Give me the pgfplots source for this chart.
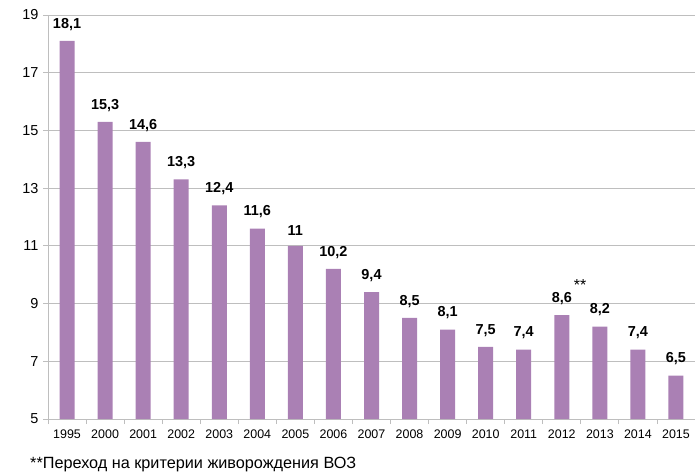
\documentclass[border=0pt]{standalone}
\usepackage{pgfplots}
\pgfplotsset{compat=1.18}
\usepackage{fontspec}
\setmainfont{Liberation Sans}
\definecolor{barc}{RGB}{170,128,180}
\definecolor{gridc}{RGB}{190,190,190}
\begin{document}
\begin{tikzpicture}
\useasboundingbox (-48bp,-55bp) rectangle (647bp,419bp);
\begin{axis}[
  at={(0,0)}, anchor=south west,
  scale only axis,
  width=647bp, height=404bp,
  xmin=-0.5, xmax=16.5,
  ymin=5, ymax=19,
  ytick={5,7,...,19},
  xtick={0,...,16},
  xticklabels={1995,2000,2001,2002,2003,2004,2005,2006,2007,2008,2009,2010,2011,2012,2013,2014,2015},
  minor xtick={-0.5,0.5,...,16.5},
  major x tick style={draw=none},
  minor tick length=5bp,
  major tick length=5bp,
  tick align=outside,
  ymajorgrids,
  grid style={gridc, line width=0.8pt},
  axis x line*=bottom,
  axis y line*=left,
  axis line style={gridc, line width=0.8pt},
  tick style={gridc, line width=0.8pt},
  /pgf/number format/assume math mode=true,
  yticklabel style={font=\fontsize{14.5}{14.5}\selectfont, xshift=-1bp},
  xticklabel style={font=\fontsize{12.5}{12.5}\selectfont, yshift=-2bp},
  ybar, bar width=15bp,
  nodes near coords,
  nodes near coords style={font=\bfseries\fontsize{14.5}{14.5}\selectfont, /pgf/number format/use comma, /pgf/number format/assume math mode=true, yshift=7bp},
  clip=false,
]
\addplot[fill=barc, draw=none] coordinates {
(0,18.1) (1,15.3) (2,14.6) (3,13.3) (4,12.4) (5,11.6) (6,11) (7,10.2) (8,9.4)
(9,8.5) (10,8.1) (11,7.5) (12,7.4) (13,8.6) (14,8.2) (15,7.4) (16,6.5)
};
\node[font=\fontsize{16}{16}\selectfont] at (axis cs:13.48,9.65) {**};
\end{axis}
\node[anchor=west, font=\fontsize{16.3}{16.3}\selectfont, inner sep=0pt] at (-18bp,-46bp) {**Переход на критерии живорождения ВОЗ};
\end{tikzpicture}
\end{document}
